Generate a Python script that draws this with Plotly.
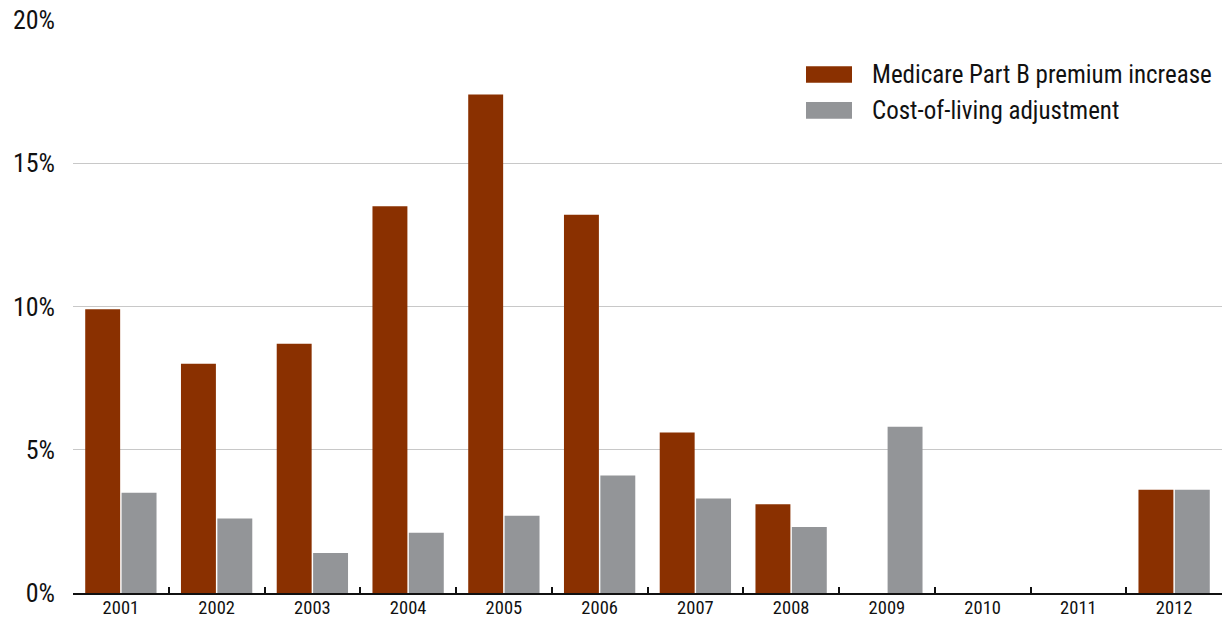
import plotly.graph_objects as go

years = ["2001", "2002", "2003", "2004", "2005", "2006", "2007", "2008", "2009", "2010", "2011", "2012"]
medicare = [9.9, 8.0, 8.7, 13.5, 17.4, 13.2, 5.6, 3.1, 0, 0, 0, 3.6]
cola = [3.5, 2.6, 1.4, 2.1, 2.7, 4.1, 3.3, 2.3, 5.8, 0, 0, 3.6]
series_names = ["Medicare Part B premium increase", "Cost-of-living adjustment"]
colors = ["#8a3000", "#939598"]
y_ticks = [0, 5, 10, 15, 20]
y_labels = ["0%", "5%", "10%", "15%", "20%"]

FONT = "Liberation Sans Narrow, Arial Narrow, Roboto Condensed, sans-serif"

fig = go.Figure()
for name, vals, col in zip(series_names, [medicare, cola], colors):
    fig.add_trace(go.Bar(x=years, y=vals, name=name, marker=dict(color=col, line=dict(width=0)),
                         showlegend=False))

# legend drawn as swatches + text
for i, (name, col) in enumerate(zip(series_names, colors)):
    yc = 0.905 - i * 0.0628
    fig.add_shape(type="rect", xref="paper", yref="paper",
                  x0=(806 - 73) / 1149, x1=(852 - 73) / 1149,
                  y0=yc - 0.0145, y1=yc + 0.0145,
                  fillcolor=col, line=dict(width=0))
    fig.add_annotation(xref="paper", yref="paper", x=(870 - 73) / 1149, y=yc,
                       text=name, showarrow=False, xanchor="left", yanchor="middle",
                       font=dict(family=FONT, size=25, color="#111"))

fig.update_layout(
    width=1222, height=619,
    margin=dict(l=73, r=0, t=20, b=26),
    paper_bgcolor="white", plot_bgcolor="white",
    barmode="group", bargap=0.24, bargroupgap=0.04,
    font=dict(family=FONT, color="#111"),
    xaxis=dict(type="category", showline=True, linecolor="#111", linewidth=1.5,
               ticks="inside", tickson="boundaries", ticklen=6, tickcolor="#111", tickwidth=1.5,
               ticklabelstandoff=-3,
               tickfont=dict(size=18.5, family=FONT), showgrid=False, automargin=False),
    yaxis=dict(range=[0, 20], tickvals=y_ticks, ticktext=y_labels, showgrid=True,
               gridcolor="#c8c8c8", gridwidth=1.2, zeroline=False, ticks="",
               ticklabelstandoff=17, tickfont=dict(size=26, family=FONT), automargin=False),
)

fig.write_html("out.html")
